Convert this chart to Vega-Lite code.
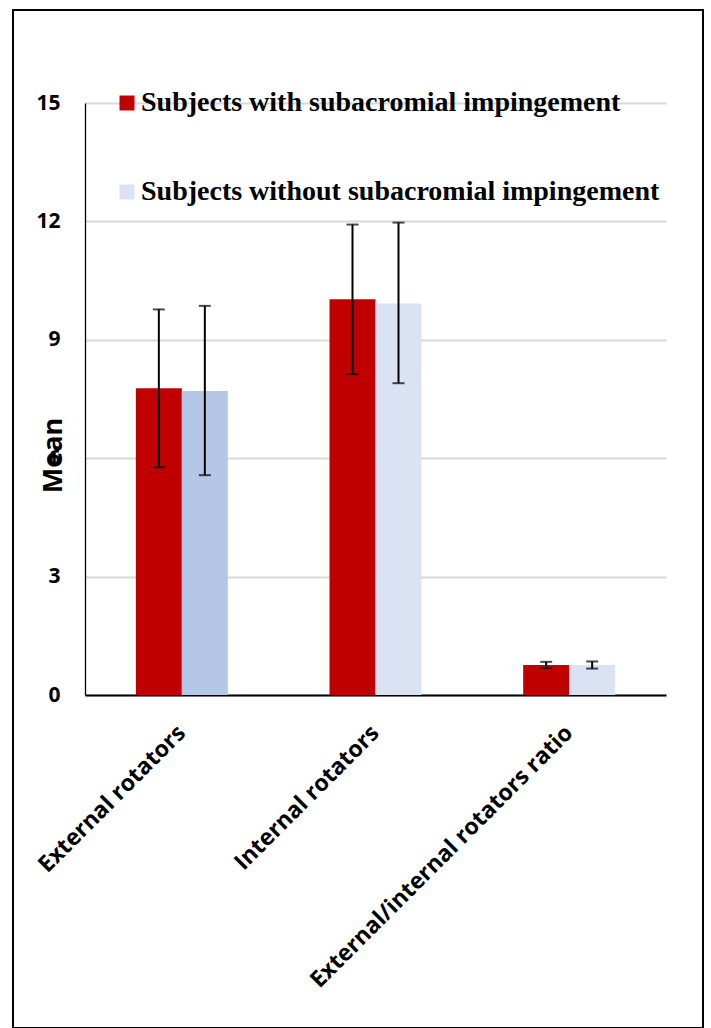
{
  "$schema": "https://vega.github.io/schema/vega-lite/v6.json",
  "autosize": "none",
  "width": 690,
  "height": 1018,
  "padding": {"left": 13, "top": 10, "right": 8, "bottom": 0},
  "background": "white",
  "data": {
    "values": [
      {"measure": "External rotators", "group": "Subjects with subacromial impingement", "mean": 7.77, "lo": 5.77, "hi": 9.77},
      {"measure": "External rotators", "group": "Subjects without subacromial impingement", "mean": 7.70, "lo": 5.57, "hi": 9.86},
      {"measure": "Internal rotators", "group": "Subjects with subacromial impingement", "mean": 10.03, "lo": 8.13, "hi": 11.92},
      {"measure": "Internal rotators", "group": "Subjects without subacromial impingement", "mean": 9.92, "lo": 7.90, "hi": 11.97},
      {"measure": "External/internal rotators ratio", "group": "Subjects with subacromial impingement", "mean": 0.76, "lo": 0.68, "hi": 0.84},
      {"measure": "External/internal rotators ratio", "group": "Subjects without subacromial impingement", "mean": 0.76, "lo": 0.67, "hi": 0.85}
    ]
  },
  "encoding": {
    "x": {
      "field": "measure",
      "type": "nominal",
      "sort": ["External rotators", "Internal rotators", "External/internal rotators ratio"],
      "scale": {"range": [72, 653], "paddingInner": 0.525, "paddingOuter": 0.2625},
      "axis": {
        "title": null,
        "orient": "bottom",
        "offset": -333,
        "domainColor": "#000000",
        "domainWidth": 2,
        "ticks": false,
        "tickSize": 0,
        "grid": false,
        "labelAngle": -45,
        "labelAlign": "right",
        "labelBaseline": "middle",
        "labelPadding": 34,
        "labelFont": "Open Sans",
        "labelFontWeight": "bold",
        "labelFontSize": 23,
        "labelColor": "#000000",
        "labelLimit": 0
      }
    },
    "xOffset": {
      "field": "group",
      "type": "nominal",
      "sort": ["Subjects with subacromial impingement", "Subjects without subacromial impingement"]
    }
  },
  "layer": [
    {
      "mark": {"type": "bar"},
      "encoding": {
        "y": {
          "field": "mean",
          "type": "quantitative",
          "scale": {"domain": [0, 15], "range": [685, 93], "nice": false, "zero": true},
          "axis": {
            "title": "Mean",
            "orient": "left",
            "offset": -72,
            "values": [0, 3, 6, 9, 12, 15],
            "format": "d",
            "grid": true,
            "gridColor": "#D9D9D9",
            "gridWidth": 2,
            "domainColor": "#000000",
            "domainWidth": 1.3,
            "ticks": false,
            "tickSize": 0,
            "labelPadding": 25,
            "labelFont": "Open Sans",
            "labelFontWeight": "bold",
            "labelFontSize": 21,
            "labelColor": "#000000",
            "titleFont": "Open Sans",
            "titleFontWeight": "bold",
            "titleFontSize": 27,
            "titleColor": "#000000",
            "titleAngle": -90,
            "titleAlign": "center",
            "titleBaseline": "middle",
            "titleX": -32,
            "titleY": 445
          }
        },
        "color": {
          "condition": {
            "test": "datum.measure === 'External rotators' && datum.group === 'Subjects without subacromial impingement'",
            "value": "#B4C7E7"
          },
          "field": "group",
          "type": "nominal",
          "sort": ["Subjects with subacromial impingement", "Subjects without subacromial impingement"],
          "scale": {"range": ["#C00000", "#DAE3F3"]},
          "legend": {
            "title": null,
            "orient": "none",
            "legendX": 100,
            "legendY": 79,
            "padding": 0,
            "symbolType": "square",
            "symbolSize": 225,
            "symbolStrokeWidth": 0,
            "symbolOpacity": 1,
            "labelFont": "Liberation Serif",
            "labelFontWeight": "bold",
            "labelFontSize": 28,
            "labelColor": "#000000",
            "labelOffset": 0,
            "labelLimit": 0,
            "rowPadding": 61
          }
        }
      }
    },
    {
      "mark": {"type": "rule", "color": "#000000", "strokeWidth": 2},
      "encoding": {
        "y": {"field": "lo", "type": "quantitative"},
        "y2": {"field": "hi"}
      }
    },
    {
      "mark": {"type": "tick", "color": "#000000", "thickness": 2, "size": 12},
      "encoding": {
        "y": {"field": "lo", "type": "quantitative"}
      }
    },
    {
      "mark": {"type": "tick", "color": "#000000", "thickness": 2, "size": 12},
      "encoding": {
        "y": {"field": "hi", "type": "quantitative"}
      }
    }
  ],
  "config": {
    "view": {"stroke": "#000000", "strokeWidth": 2, "fill": null},
    "bar": {"stroke": null}
  }
}
